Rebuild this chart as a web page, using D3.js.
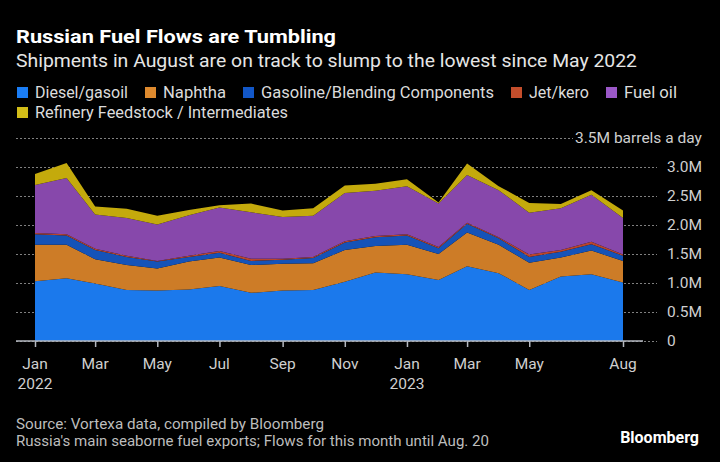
<!DOCTYPE html>
<html><head><meta charset="utf-8">
<script src="https://cdn.jsdelivr.net/npm/d3@7"></script>
<style>body{margin:0;background:#000}svg{display:block}</style>
</head><body>
<svg id="c" width="720" height="462"></svg>
<script>
// ---- data (million barrels a day) ----
const months = ["2022-01","2022-02","2022-03","2022-04","2022-05","2022-06","2022-07","2022-08","2022-09","2022-10","2022-11","2022-12","2023-01","2023-02","2023-03","2023-04","2023-05","2023-06","2023-07","2023-08"];
const diesel    = [1.03,1.08,0.99,0.88,0.87,0.89,0.95,0.83,0.87,0.88,1.02,1.18,1.15,1.05,1.29,1.17,0.88,1.11,1.15,1.01];
const naphtha   = [0.63,0.58,0.42,0.43,0.38,0.48,0.49,0.48,0.46,0.46,0.55,0.46,0.51,0.45,0.58,0.49,0.47,0.33,0.41,0.37];
const gasoline  = [0.18,0.16,0.16,0.14,0.12,0.08,0.08,0.07,0.07,0.09,0.13,0.15,0.16,0.10,0.15,0.11,0.10,0.10,0.11,0.09];
const jetKero   = [0.02,0.02,0.02,0.02,0.01,0.02,0.03,0.04,0.02,0.02,0.02,0.02,0.02,0.02,0.02,0.02,0.04,0.03,0.04,0.02];
const fuelOil   = [0.83,0.97,0.59,0.65,0.63,0.70,0.75,0.80,0.72,0.71,0.83,0.78,0.83,0.75,0.82,0.81,0.72,0.72,0.81,0.63];
const feedstock = [0.19,0.26,0.14,0.16,0.15,0.09,0.04,0.15,0.11,0.13,0.13,0.12,0.12,0.02,0.20,0.07,0.17,0.07,0.08,0.13];
const seriesNames = ["Diesel/gasoil","Naphtha","Gasoline/Blending Components","Jet/kero","Fuel oil","Refinery Feedstock / Intermediates"];
const yTicks = [0,0.5,1,1.5,2,2.5,3];
const yTickLabels = ["0","0.5M","1.0M","1.5M","2.0M","2.5M","3.0M"];
const yTop = 3.5;
const yTopLabel = "3.5M barrels a day";
const xTicks = ["2022-01","2022-03","2022-05","2022-07","2022-09","2022-11","2023-01","2023-03","2023-05","2023-08"];
const xTickLabels = ["Jan\n2022","Mar","May","Jul","Sep","Nov","Jan\n2023","Mar","May","Aug"];
const title = "Russian Fuel Flows are Tumbling";
const subtitle = "Shipments in August are on track to slump to the lowest since May 2022";
const source1 = "Source: Vortexa data, compiled by Bloomberg";
const source2 = "Russia's main seaborne fuel exports; Flows for this month until Aug. 20";

// ---- styles ----
const areaColors = ["#1b79ec","#cd7c27","#1553b8","#b8452b","#8748ab","#c4aa0c"];
const legendColors = ["#1a7df5","#de8a2e","#1257c8","#c44e2c","#9b58c8","#d2bd18"];
const FONT = "Roboto, 'Noto Sans', sans-serif";

const svg = d3.select("#c");
svg.append("rect").attr("width",720).attr("height",462).attr("fill","#000");

const parse = d3.utcParse("%Y-%m");
const dates = months.map(parse);
const x = d3.scaleUtc().domain([dates[0], dates[dates.length-1]]).range([35, 623]);
const y = d3.scaleLinear().domain([0, yTop]).range([341, 138]);

function fitText(sel, w){
  const n = sel.node();
  const len = n.getComputedTextLength();
  if (Math.abs(len - w) > 1) sel.attr("textLength", w).attr("lengthAdjust","spacingAndGlyphs");
  return sel;
}

// titles
fitText(svg.append("text").attr("x",16).attr("y",43).attr("fill","#fff")
  .attr("font-family",FONT).attr("font-weight",700).attr("font-size",19).text(title), 320);
fitText(svg.append("text").attr("x",16).attr("y",67).attr("fill","#e6e6e6")
  .attr("font-family",FONT).attr("font-size",18.5).text(subtitle), 621);

// legend (flow layout)
const legendTextWidths = [93,63,233,60,53,253];
const legend = svg.append("g");
let lx = 17, ly = 98;
seriesNames.forEach((name,i)=>{
  const g = legend.append("g");
  const t = g.append("text").attr("font-family",FONT).attr("font-size",16).attr("fill","#dcdcdc").text(name);
  const w = legendTextWidths[i];
  if (lx + 18 + w > 705) { lx = 17; ly += 20; }
  g.append("rect").attr("x",lx).attr("y",ly-11).attr("width",11).attr("height",11).attr("fill",legendColors[i]);
  t.attr("x",lx+18).attr("y",ly);
  fitText(t, w);
  lx += 18 + w + 17;
});

// gridlines
const grid = svg.append("g");
grid.selectAll("line.g").data(yTicks).join("line")
  .attr("x1",16).attr("x2",657).attr("y1",d=>y(d)+0.5).attr("y2",d=>y(d)+0.5)
  .attr("stroke","#808080").attr("stroke-width",1).attr("stroke-dasharray","2,2");
grid.append("line").attr("x1",16).attr("x2",573).attr("y1",y(yTop)+0.5).attr("y2",y(yTop)+0.5)
  .attr("stroke","#808080").attr("stroke-width",1).attr("stroke-dasharray","2,2");

// stacked areas
const table = dates.map((d,i)=>({date:d, s0:diesel[i], s1:naphtha[i], s2:gasoline[i], s3:jetKero[i], s4:fuelOil[i], s5:feedstock[i]}));
const keys = ["s0","s1","s2","s3","s4","s5"];
const stacked = d3.stack().keys(keys)(table);
const area = d3.area().x(d=>x(d.data.date)).y0(d=>y(d[0])).y1(d=>y(d[1]));
svg.append("g").selectAll("path").data(stacked).join("path")
  .attr("d",area).attr("fill",(d,i)=>areaColors[i]);

// y labels
svg.append("g").selectAll("text").data(yTicks).join("text")
  .attr("x",667).attr("y",d=>y(d)).attr("dy","0.35em")
  .attr("font-family",FONT).attr("font-size",15.5).attr("fill","#cfcfcf")
  .text((d,i)=>yTickLabels[i]);
svg.append("text").attr("x",575).attr("y",y(yTop)).attr("dy","0.35em")
  .attr("font-family",FONT).attr("font-size",15.5).attr("fill","#cfcfcf").text(yTopLabel);

// x axis
const xAxis = d3.axisBottom(x).tickValues(xTicks.map(parse)).tickSize(6).tickFormat("");
const ax = svg.append("g").attr("transform","translate(0,341)").call(xAxis);
ax.select(".domain").remove();
ax.selectAll(".tick line").attr("stroke","#b4b8c0").attr("stroke-width",1.5);
svg.append("line").attr("x1",16).attr("x2",643).attr("y1",341).attr("y2",341)
  .attr("stroke","#b4b8c0").attr("stroke-width",1.5);
const xl = svg.append("g");
xTicks.forEach((t,i)=>{
  const lines = xTickLabels[i].split("\n");
  lines.forEach((s,j)=>{
    xl.append("text").attr("x",x(parse(t))).attr("y",369+j*20).attr("text-anchor","middle")
      .attr("font-family",FONT).attr("font-size",15.5).attr("fill","#cfcfcf").text(s);
  });
});

// footer
fitText(svg.append("text").attr("x",16).attr("y",428.5).attr("font-family",FONT).attr("font-size",14)
  .attr("fill","#bdbdbd").text(source1), 308);
fitText(svg.append("text").attr("x",16).attr("y",446).attr("font-family",FONT).attr("font-size",14)
  .attr("fill","#bdbdbd").text(source2), 473);
svg.append("text").attr("x",699).attr("y",443).attr("text-anchor","end").attr("font-family",FONT)
  .attr("font-weight",700).attr("font-size",16).attr("fill","#fff").text("Bloomberg");
</script>
</body></html>
